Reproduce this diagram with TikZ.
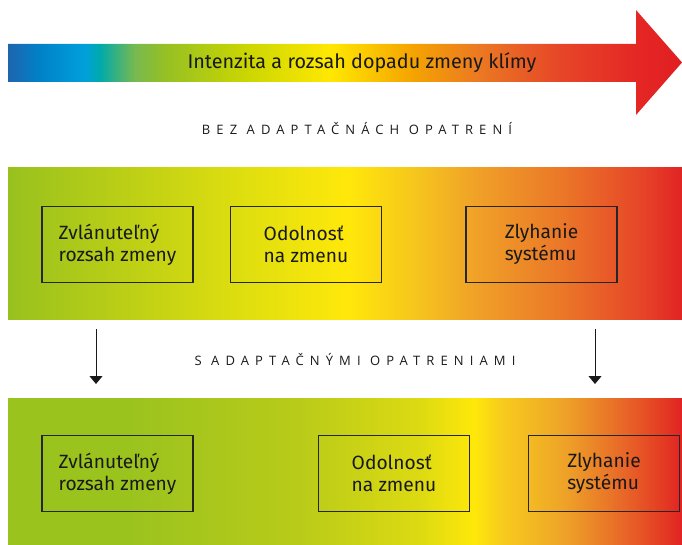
\documentclass[tikz,border=0pt]{standalone}
\usepackage{fontspec}
\setmainfont{Fira Sans}
\newfontfamily\capsfont[LetterSpace=47]{Open Sans}
\usetikzlibrary{arrows.meta}
% top arrow colours
\definecolor{tA}{RGB}{30,100,175}
\definecolor{tB}{RGB}{0,130,200}
\definecolor{tC}{RGB}{0,160,220}
\definecolor{tD}{RGB}{0,170,170}
\definecolor{tE}{RGB}{120,185,80}
\definecolor{tF}{RGB}{150,192,35}
\definecolor{tG}{RGB}{205,215,0}
\definecolor{tH}{RGB}{255,232,0}
\definecolor{tI}{RGB}{245,165,0}
\definecolor{tJ}{RGB}{235,120,35}
\definecolor{tK}{RGB}{230,70,40}
\definecolor{tL}{RGB}{228,38,36}
\definecolor{tM}{RGB}{225,30,35}
% band colours
\definecolor{bA}{RGB}{152,193,30}
\definecolor{bB}{RGB}{195,210,20}
\definecolor{bC}{RGB}{222,222,15}
\definecolor{bD}{RGB}{255,232,10}
\definecolor{bE}{RGB}{245,195,30}
\definecolor{bF}{RGB}{240,160,40}
\definecolor{bG}{RGB}{235,120,40}
\definecolor{bH}{RGB}{230,70,40}
\definecolor{bI}{RGB}{225,35,35}
\definecolor{cA}{RGB}{155,195,30}
\definecolor{cB}{RGB}{185,203,25}
\definecolor{cC}{RGB}{220,218,18}
\definecolor{cD}{RGB}{255,232,10}
\definecolor{cE}{RGB}{247,205,28}
\definecolor{cF}{RGB}{238,162,40}
\definecolor{cG}{RGB}{232,105,40}
\definecolor{cH}{RGB}{228,60,35}
\pgfdeclarehorizontalshading{topgrad}{100bp}{color(0bp)=(tA); color(25bp)=(tA); color(27.37bp)=(tB); color(30.71bp)=(tC); color(31.82bp)=(tD); color(34.42bp)=(tE); color(36.65bp)=(tF); color(42.95bp)=(tG); color(48.89bp)=(tH); color(54.82bp)=(tI); color(60.01bp)=(tJ); color(65.95bp)=(tK); color(71.88bp)=(tL); color(75bp)=(tM); color(100bp)=(tM)}
\pgfdeclarehorizontalshading{bandone}{100bp}{color(0bp)=(bA); color(25bp)=(bA); color(35.53bp)=(bB); color(42.21bp)=(bC); color(50.22bp)=(bD); color(55.56bp)=(bE); color(59.87bp)=(bF); color(65.95bp)=(bG); color(71.88bp)=(bH); color(75bp)=(bI); color(100bp)=(bI)}
\pgfdeclarehorizontalshading{bandtwo}{100bp}{color(0bp)=(cA); color(25bp)=(cA); color(34.05bp)=(cA); color(46.66bp)=(cB); color(55.5bp)=(cC); color(59.57bp)=(cD); color(61.5bp)=(cE); color(66.32bp)=(cF); color(70.5bp)=(cG); color(73.5bp)=(cH); color(75bp)=(bI); color(100bp)=(bI)}
\begin{document}
\begin{tikzpicture}[x=1pt,y=-1pt,
  box/.style={draw=black!85, line width=1.1pt, minimum width=151pt, minimum height=76pt, inner sep=0pt, align=left, text=black!90, font=\fontsize{19.2}{22}\selectfont},
  hdr/.style={font=\capsfont\fontsize{13}{15}\selectfont, text=black!90, inner sep=0pt},
  down/.style={-{Triangle[width=13pt,length=8pt]}, line width=0.9pt, draw=black!90}]
\useasboundingbox (0,0) rectangle (682,545);
% top arrow
\shade[shading=topgrad] (8,44) -- (636,44) -- (636,10) -- (682,62.5) -- (636,115) -- (636,82) -- (8,82) -- cycle;
\node[font=\fontsize{19.8}{22}\selectfont, text=black!90] (title) at (362,63) {Intenzita a rozsah dopadu zmeny klímy};
\node[hdr] (h1) at (357,129) {BEZ ADAPTAČNÁCH OPATRENÍ};
% band 1
\shade[shading=bandone] (8,168) rectangle (682,319);
\node[box] (p1) at (117.5,244.5) {Zvlánuteľný\\rozsah zmeny};
\node[box] (p2) at (306,244.5) {Odolnosť\\na zmenu};
\node[box] (p3) at (541.5,244.5) {Zlyhanie\\systému};
% arrows and heading
\node[hdr] (h2) at (355,360) {S ADAPTAČNÝMI OPATRENIAMI};
\coordinate (a1s) at (96,329);
\coordinate (a1e) at (96,384);
\coordinate (a2s) at (595,329);
\coordinate (a2e) at (595,384);
\draw[down] (a1s) -- (a1e);
\draw[down] (a2s) -- (a2e);
% band 2
\shade[shading=bandtwo] (8,398) rectangle (682,545);
\node[box] (q1) at (117.5,473.5) {Zvlánuteľný\\rozsah zmeny};
\node[box] (q2) at (394,473.5) {Odolnosť\\na zmenu};
\node[box] (q3) at (604,473.5) {Zlyhanie\\systému};
\end{tikzpicture}
\end{document}
